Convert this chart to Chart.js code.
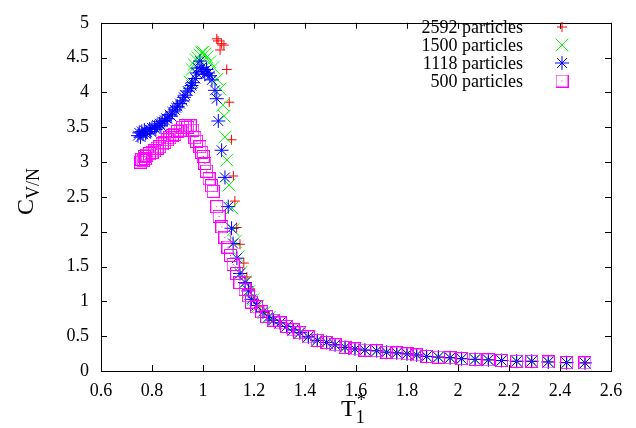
<!DOCTYPE html>
<html>
<head>
<meta charset="utf-8">
<script src="https://cdn.jsdelivr.net/npm/chart.js@4.4.0/dist/chart.umd.min.js"></script>
<style>
  html, body { margin: 0; padding: 0; background: #fff; }
</style>
</head>
<body>
<canvas id="cvChart" width="636" height="428"></canvas>
<script>
// heat capacity per particle vs reduced temperature, four system sizes

// 2592 particles
const t2592  = [1.054, 1.059, 1.067, 1.073, 1.082, 1.093, 1.103, 1.112, 1.119, 1.125, 1.132, 1.145, 1.16, 1.172, 1.185, 1.2, 1.22, 1.24, 1.26];
const cv2592 = [4.77, 4.74, 4.61, 4.70, 4.68, 4.33, 3.86, 3.32, 2.80, 2.44, 2.06, 1.82, 1.55, 1.35, 1.18, 1.03, 0.92, 0.84, 0.77];

// 1500 particles
const t1500  = [0.949, 0.957, 0.965, 0.973, 0.98, 0.988, 0.995, 1.0, 1.008, 1.016, 1.027, 1.04, 1.055, 1.067, 1.078, 1.083, 1.086, 1.094, 1.102, 1.114, 1.118, 1.126, 1.138, 1.15, 1.165, 1.18, 1.195, 1.215, 1.24, 1.26];
const cv1500 = [4.15, 4.33, 4.40, 4.47, 4.50, 4.54, 4.57, 4.58, 4.55, 4.51, 4.44, 4.36, 4.19, 4.05, 3.82, 3.66, 3.36, 3.03, 2.67, 2.34, 2.03, 1.86, 1.64, 1.42, 1.28, 1.14, 1.02, 0.93, 0.84, 0.77];

// 1118 particles
const t1118  = [0.745, 0.75, 0.755, 0.76, 0.765, 0.77, 0.775, 0.78, 0.79, 0.795, 0.80, 0.81, 0.815, 0.82, 0.83, 0.835, 0.84, 0.85, 0.855, 0.86, 0.87, 0.875, 0.88, 0.89, 0.895, 0.90, 0.91, 0.92, 0.925, 0.93, 0.94, 0.95, 0.955, 0.96, 0.97, 0.975, 0.98, 0.988, 0.995, 1.0, 1.007, 1.014, 1.02, 1.027, 1.035, 1.047, 1.054, 1.06, 1.073, 1.086, 1.099, 1.112, 1.118, 1.133, 1.145, 1.165, 1.178, 1.19, 1.21, 1.235, 1.255];
const cv1118 = [3.38, 3.42, 3.36, 3.44, 3.40, 3.46, 3.41, 3.43, 3.47, 3.44, 3.49, 3.50, 3.47, 3.53, 3.55, 3.52, 3.58, 3.60, 3.63, 3.62, 3.68, 3.66, 3.72, 3.75, 3.78, 3.80, 3.84, 3.88, 3.93, 3.96, 4.02, 4.06, 4.10, 4.14, 4.20, 4.28, 4.35, 4.45, 4.36, 4.30, 4.26, 4.33, 4.28, 4.24, 4.18, 4.03, 3.91, 3.59, 3.17, 2.78, 2.36, 2.05, 1.83, 1.62, 1.40, 1.27, 1.15, 1.03, 0.94, 0.85, 0.77];

// 500 particles
const t500  = [0.755, 0.76, 0.765, 0.77, 0.775, 0.78, 0.79, 0.80, 0.81, 0.82, 0.83, 0.84, 0.85, 0.86, 0.87, 0.88, 0.89, 0.90, 0.91, 0.92, 0.93, 0.94, 0.95, 0.96, 0.968, 0.975, 0.988, 0.995, 1.001, 1.007, 1.014, 1.024, 1.033, 1.04, 1.054, 1.063, 1.074, 1.086, 1.098, 1.108, 1.118, 1.132, 1.145, 1.165, 1.178, 1.19, 1.21, 1.23, 1.25];
const cv500 = [3.00, 3.04, 3.02, 3.08, 3.05, 3.10, 3.12, 3.14, 3.16, 3.20, 3.22, 3.26, 3.28, 3.32, 3.35, 3.38, 3.40, 3.44, 3.46, 3.50, 3.52, 3.50, 3.52, 3.46, 3.35, 3.30, 3.22, 3.14, 3.08, 2.98, 2.87, 2.76, 2.66, 2.58, 2.36, 2.22, 2.07, 1.92, 1.78, 1.66, 1.53, 1.40, 1.27, 1.17, 1.08, 0.99, 0.92, 0.85, 0.78];

// high temperature tail, all sizes fall on the same points
const tailT  = [1.276, 1.302, 1.328, 1.354, 1.38, 1.413, 1.448, 1.485, 1.518, 1.557, 1.596, 1.635, 1.681, 1.72, 1.76, 1.8, 1.838, 1.877, 1.923, 1.969, 2.014, 2.067, 2.119, 2.171, 2.23, 2.289, 2.354, 2.426, 2.498];
const tailCv = [0.73, 0.69, 0.64, 0.59, 0.55, 0.49, 0.44, 0.41, 0.376, 0.34, 0.316, 0.30, 0.29, 0.27, 0.26, 0.246, 0.23, 0.21, 0.20, 0.19, 0.177, 0.167, 0.16, 0.15, 0.14, 0.14, 0.13, 0.12, 0.116];

const xTicks = [0.6, 0.8, 1, 1.2, 1.4, 1.6, 1.8, 2, 2.2, 2.4, 2.6];
const yTicks = [0, 0.5, 1, 1.5, 2, 2.5, 3, 3.5, 4, 4.5, 5];

function pts(t, cv) {
  const all = t.concat(tailT), vals = cv.concat(tailCv);
  return all.map((x, i) => ({ x: x, y: vals[i] }));
}

// open square with a dot in the middle
function boxDot(color) {
  const c = document.createElement('canvas');
  c.width = 13; c.height = 13;
  const g = c.getContext('2d');
  g.strokeStyle = color;
  g.lineWidth = 1;
  g.strokeRect(0.5, 0.5, 12, 12);
  g.fillStyle = color;
  g.fillRect(6, 6, 1, 1);
  return c;
}

const serif = "'Liberation Serif', 'Times New Roman', serif";
Chart.defaults.font.family = serif;
Chart.defaults.font.size = 18;
Chart.defaults.color = '#000';

const L = 101, R = 611, T = 12, B = 371;

// box, inward ticks on all four sides, axis titles and the key
const decor = {
  id: 'decor',
  afterDraw(chart) {
    const ctx = chart.ctx, a = chart.chartArea;
    const sx = chart.scales.x, sy = chart.scales.y;
    ctx.save();
    ctx.strokeStyle = '#000';
    ctx.lineWidth = 1;
    ctx.beginPath();
    xTicks.forEach(v => {
      const px = Math.round(sx.getPixelForValue(v)) + 0.5;
      ctx.moveTo(px, a.bottom); ctx.lineTo(px, a.bottom - 6);
      ctx.moveTo(px, a.top); ctx.lineTo(px, a.top + 6);
    });
    yTicks.forEach(v => {
      const py = Math.round(sy.getPixelForValue(v)) + 0.5;
      ctx.moveTo(a.left, py); ctx.lineTo(a.left + 6, py);
      ctx.moveTo(a.right, py); ctx.lineTo(a.right - 6, py);
    });
    ctx.stroke();
    ctx.strokeRect(Math.round(a.left) + 0.5, Math.round(a.top) + 0.5,
                   Math.round(a.right - a.left), Math.round(a.bottom - a.top));

    // y title: C with subscript V/N
    ctx.fillStyle = '#000';
    ctx.translate(33, 215);
    ctx.rotate(-Math.PI / 2);
    ctx.textBaseline = 'alphabetic';
    ctx.textAlign = 'left';
    ctx.font = '24px ' + serif;
    ctx.fillText('C', 0, 0);
    const cw = ctx.measureText('C').width;
    ctx.font = '18px ' + serif;
    ctx.fillText('V/N', cw, 6);
    ctx.setTransform(1, 0, 0, 1, 0, 0);

    // x title: T with subscript 1 and superscript *
    ctx.font = '24px ' + serif;
    ctx.fillText('T', 341, 416);
    const tw = ctx.measureText('T').width;
    ctx.font = '18px ' + serif;
    ctx.fillText('1', 341 + tw, 423);
    ctx.fillText('*', 341 + tw + 1, 406);

    // key
    ctx.textAlign = 'right';
    ctx.textBaseline = 'middle';
    ctx.font = '18px ' + serif;
    chart.data.datasets.forEach((ds, i) => {
      const y = 27 + i * 18;
      ctx.fillStyle = '#000';
      ctx.fillText(ds.label, 523, y + 1);
      ctx.strokeStyle = ds.borderColor;
      ctx.fillStyle = ds.borderColor;
      ctx.lineWidth = 1;
      Chart.helpers.drawPoint(ctx, {
        pointStyle: ds.pointStyle, radius: ds.pointRadius, rotation: 0, borderWidth: 1
      }, 562, y);
    });
    ctx.restore();
  }
};

const datasets = [
  { label: '2592 particles', data: pts(t2592, cv2592), borderColor: '#ff0000', backgroundColor: '#ff0000', pointStyle: 'cross', pointRadius: 5, order: 3 },
  { label: '1500 particles', data: pts(t1500, cv1500), borderColor: '#00ff00', backgroundColor: '#00ff00', pointStyle: 'crossRot', pointRadius: 9, order: 2 },
  { label: '1118 particles', data: pts(t1118, cv1118), borderColor: '#0000ff', backgroundColor: '#0000ff', pointStyle: 'star', pointRadius: 7, order: 1 },
  { label: '500 particles', data: pts(t500, cv500), borderColor: '#ff00ff', backgroundColor: '#ff00ff', pointStyle: boxDot('#ff00ff'), pointRadius: 6, order: 0 }
];
datasets.forEach(ds => { ds.pointBorderWidth = 1; ds.showLine = false; });

new Chart(document.getElementById('cvChart'), {
  type: 'scatter',
  data: { datasets: datasets },
  options: {
    responsive: false,
    animation: false,
    events: [],
    layout: { padding: { top: T, right: 636 - R, left: 0, bottom: 0 } },
    plugins: { legend: { display: false }, tooltip: { enabled: false } },
    scales: {
      x: {
        type: 'linear', min: 0.6, max: 2.6,
        afterFit: s => { s.height = 428 - B; },
        afterBuildTicks: s => { s.ticks = xTicks.map(v => ({ value: v })); },
        grid: { display: false, drawTicks: false },
        border: { display: false },
        ticks: { padding: 9, maxRotation: 0, callback: v => String(v) }
      },
      y: {
        type: 'linear', min: 0, max: 5,
        afterFit: s => { s.width = L; },
        afterBuildTicks: s => { s.ticks = yTicks.map(v => ({ value: v })); },
        grid: { display: false, drawTicks: false },
        border: { display: false },
        ticks: { padding: 12, callback: v => String(v) }
      }
    }
  },
  plugins: [decor]
});
</script>
</body>
</html>
